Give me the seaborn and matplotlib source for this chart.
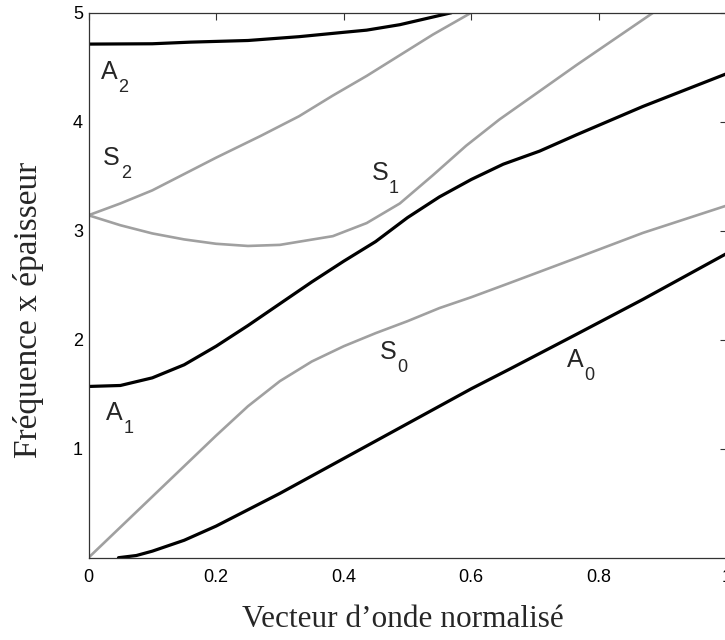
import numpy as np
import pandas as pd
import matplotlib
matplotlib.use("Agg")
import matplotlib.pyplot as plt
import seaborn as sns

# Dispersion curves (normalised wavenumber vs frequency x thickness)
a0_x = [0.047, 0.075, 0.10, 0.15, 0.20, 0.25, 0.30, 0.35, 0.40, 0.45, 0.50, 0.55, 0.60, 0.66, 0.765, 0.869, 1.0]
a0_y = [0.0, 0.02, 0.06, 0.16, 0.29, 0.44, 0.59, 0.75, 0.91, 1.07, 1.23, 1.39, 1.55, 1.73, 2.05, 2.37, 2.79]

a1_x = [0.0, 0.05, 0.10, 0.15, 0.20, 0.25, 0.30, 0.35, 0.40, 0.45, 0.50, 0.55, 0.60, 0.65, 0.707, 0.765, 0.869, 1.0]
a1_y = [1.571, 1.58, 1.65, 1.77, 1.94, 2.13, 2.33, 2.53, 2.72, 2.90, 3.12, 3.31, 3.47, 3.61, 3.73, 3.88, 4.14, 4.44]

a2_x = [0.0, 0.10, 0.16, 0.25, 0.33, 0.40, 0.436, 0.488, 0.569]
a2_y = [4.712, 4.715, 4.73, 4.745, 4.78, 4.82, 4.84, 4.89, 5.0]

s0_x = [0.0, 0.05, 0.10, 0.15, 0.20, 0.25, 0.30, 0.35, 0.40, 0.45, 0.50, 0.55, 0.60, 0.66, 0.765, 0.869, 1.0]
s0_y = [0.0, 0.28, 0.56, 0.84, 1.12, 1.39, 1.62, 1.80, 1.94, 2.06, 2.17, 2.29, 2.39, 2.52, 2.75, 2.98, 3.23]

s1_x = [0.0, 0.05, 0.10, 0.15, 0.20, 0.25, 0.30, 0.331, 0.383, 0.436, 0.488, 0.540, 0.592, 0.644, 0.707, 0.765, 0.885]
s1_y = [3.1416, 3.05, 2.975, 2.92, 2.88, 2.86, 2.87, 2.90, 2.95, 3.07, 3.25, 3.51, 3.78, 4.02, 4.28, 4.52, 5.0]

s2_x = [0.0, 0.05, 0.10, 0.15, 0.20, 0.27, 0.33, 0.383, 0.436, 0.540, 0.600]
s2_y = [3.1416, 3.25, 3.37, 3.52, 3.67, 3.87, 4.05, 4.24, 4.42, 4.80, 5.0]

# curve names (letter, index) and where the letter's baseline-left sits
mode_letters = ["A", "A", "A", "S", "S", "S"]
mode_index = ["0", "1", "2", "0", "1", "2"]
label_x = [0.750, 0.028, 0.0196, 0.4565, 0.4435, 0.023]
label_y = [1.752, 1.263, 4.392, 1.823, 3.465, 3.603]

sns.set_style("white")
plt.rcParams['font.family'] = ['Liberation Sans', 'DejaVu Sans']

fig = plt.figure(figsize=(7.25, 6.4), dpi=100)
ax = fig.add_axes([88.5 / 725, 82.3 / 640, 638 / 725, 545 / 640])

black = "#000000"
grey = "#a0a0a0"
curves = [
    (a0_x, a0_y, black, 2.3), (a1_x, a1_y, black, 2.3), (a2_x, a2_y, black, 2.3),
    (s0_x, s0_y, grey, 1.9), (s1_x, s1_y, grey, 1.9), (s2_x, s2_y, grey, 1.9),
]
for cx, cy, col, lw in curves:
    df = pd.DataFrame({"k": cx, "f": cy})
    sns.lineplot(data=df, x="k", y="f", color=col, linewidth=lw, sort=False,
                 estimator=None, ax=ax, legend=False, solid_joinstyle="round")

for let, idx, lx, ly in zip(mode_letters, mode_index, label_x, label_y):
    ax.text(lx, ly, let, fontsize=18, ha="left", va="baseline")
    ax.annotate(idx, xy=(lx, ly), xytext=(12.6, -9.5), textcoords="offset points",
                fontsize=13, ha="left", va="baseline")

ax.set_xlim(0, 1)
ax.set_ylim(0, 5)
ax.set_xticks([0, 0.2, 0.4, 0.6, 0.8, 1])
ax.set_xticklabels(["0", "0.2", "0.4", "0.6", "0.8", "1"])
ax.set_yticks([1, 2, 3, 4, 5])
ax.set_yticklabels(["1", "2", "3", "4", "5"])
ax.tick_params(direction="in", length=5, width=0.8, top=True, right=True,
               labelsize=13, colors="#333333", labelcolor="black")
ax.tick_params(axis="x", pad=8)
ax.tick_params(axis="y", pad=4)
for sp in ax.spines.values():
    sp.set_visible(True)
    sp.set_linewidth(0.9)
    sp.set_color("#333333")

ax.set_xlabel("Vecteur d\u2019onde normalisé", family="Liberation Serif", fontsize=22.5)
ax.xaxis.label.set_va("baseline")
ax.xaxis.set_label_coords(0.493, (557.7 - 627) / 545)
ax.set_ylabel("Fréquence x épaisseur", family="Liberation Serif", fontsize=24)
ax.yaxis.set_label_coords((44 - 88.5) / 638, (557.7 - 310) / 545)

fig.savefig("out.png", dpi=100)
